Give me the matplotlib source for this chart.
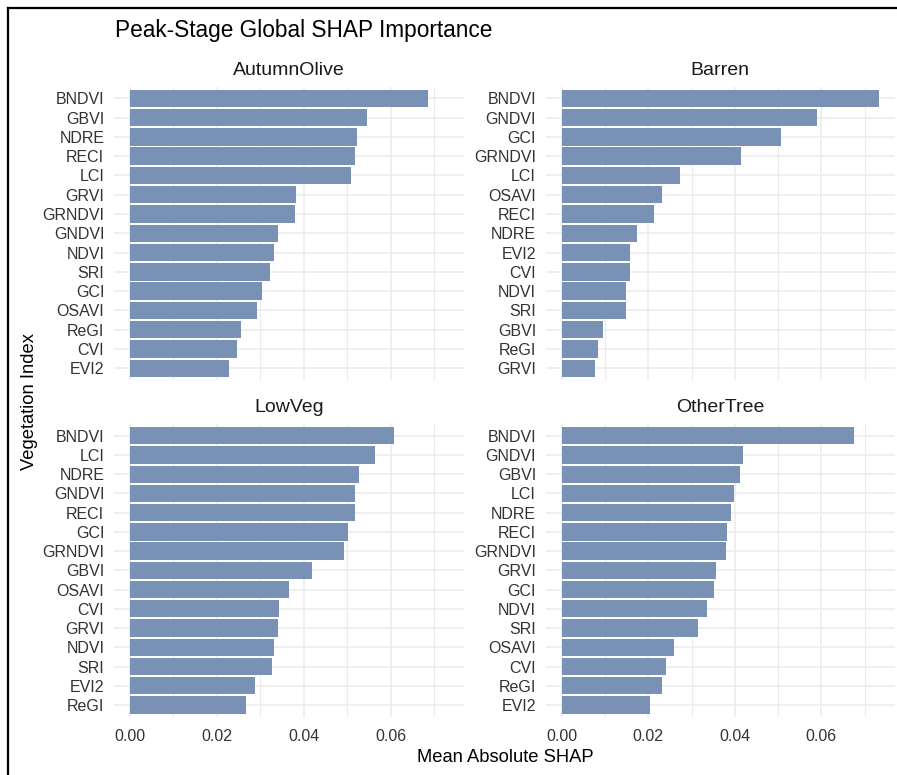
import matplotlib
matplotlib.use("Agg")
import matplotlib.pyplot as plt
from matplotlib.lines import Line2D
from matplotlib.ticker import MultipleLocator

plt.rcParams['font.family'] = ['Liberation Sans', 'DejaVu Sans']

title = "Peak-Stage Global SHAP Importance"
facets = ["AutumnOlive", "Barren", "LowVeg", "OtherTree"]

autumn_labels = ["BNDVI", "GBVI", "NDRE", "RECI", "LCI", "GRVI", "GRNDVI", "GNDVI",
                 "NDVI", "SRI", "GCI", "OSAVI", "ReGI", "CVI", "EVI2"]
autumn_values = [0.0687, 0.0546, 0.0522, 0.0519, 0.0508, 0.0382, 0.0379, 0.0340,
                 0.0332, 0.0323, 0.0305, 0.0293, 0.0255, 0.0247, 0.0229]

barren_labels = ["BNDVI", "GNDVI", "GCI", "GRNDVI", "LCI", "OSAVI", "RECI", "NDRE",
                 "EVI2", "CVI", "NDVI", "SRI", "GBVI", "ReGI", "GRVI"]
barren_values = [0.0733, 0.0589, 0.0507, 0.0415, 0.0273, 0.0232, 0.0214, 0.0173,
                 0.0158, 0.0158, 0.0149, 0.0149, 0.0096, 0.0084, 0.0076]

lowveg_labels = ["BNDVI", "LCI", "NDRE", "GNDVI", "RECI", "GCI", "GRNDVI", "GBVI",
                 "OSAVI", "CVI", "GRVI", "NDVI", "SRI", "EVI2", "ReGI"]
lowveg_values = [0.0608, 0.0563, 0.0528, 0.0519, 0.0519, 0.0502, 0.0493, 0.0420,
                 0.0367, 0.0344, 0.0340, 0.0332, 0.0326, 0.0288, 0.0267]

othertree_labels = ["BNDVI", "GNDVI", "GBVI", "LCI", "NDRE", "RECI", "GRNDVI", "GRVI",
                    "GCI", "NDVI", "SRI", "OSAVI", "CVI", "ReGI", "EVI2"]
othertree_values = [0.0675, 0.0418, 0.0412, 0.0398, 0.0391, 0.0382, 0.0380, 0.0356,
                    0.0353, 0.0335, 0.0315, 0.0259, 0.0241, 0.0232, 0.0203]

x_ticks = [0.00, 0.02, 0.04, 0.06]
x_tick_labels = ["0.00", "0.02", "0.04", "0.06"]

panel_data = [(autumn_labels, autumn_values), (barren_labels, barren_values),
              (lowveg_labels, lowveg_values), (othertree_labels, othertree_values)]

W, H = 897, 775
fig = plt.figure(figsize=(W / 100, H / 100), dpi=100)
fig.patch.set_facecolor("white")

bar_color = "#7A91B6"
grid_color = "#EBEBEB"
tick_color = "#333333"

cols = [(114, 464.3), (545.8, 894.8)]
rows = [(86.7, 379.9), (424.2, 716.5)]

xmax = max(max(v) for _, v in panel_data)
xlim = (-0.05 * xmax, 1.05 * xmax)

for i, (labels, values) in enumerate(panel_data):
    r, c = divmod(i, 2)
    x0, x1 = cols[c]
    y0, y1 = rows[r]
    ax = fig.add_axes([x0 / W, 1 - y1 / H, (x1 - x0) / W, (y1 - y0) / H])
    ax.set_facecolor("white")
    pos = list(range(len(labels)))
    ax.barh(pos, values, height=0.9, color=bar_color, zorder=2)
    ax.set_ylim(len(labels) - 0.4, -0.6)
    ax.set_xlim(*xlim)
    ax.set_yticks(pos)
    ax.set_yticklabels(labels)
    ax.set_xticks(x_ticks)
    ax.xaxis.set_minor_locator(MultipleLocator(0.01))
    if r == 1:
        ax.set_xticklabels(x_tick_labels)
    else:
        ax.set_xticklabels([])
    ax.tick_params(axis='both', which='both', length=0, labelsize=11.5,
                   labelcolor=tick_color)
    ax.tick_params(axis='y', pad=7)
    ax.tick_params(axis='x', pad=9)
    ax.grid(True, axis='y', which='major', color=grid_color, linewidth=1.1, zorder=0)
    ax.grid(True, axis='x', which='major', color=grid_color, linewidth=1.1, zorder=0)
    ax.grid(True, axis='x', which='minor', color=grid_color, linewidth=0.8, zorder=0)
    ax.set_axisbelow(True)
    for s in ax.spines.values():
        s.set_visible(False)
    fig.text((x0 + x1) / 2 / W, 1 - (y0 - 16.5) / H, facets[i], ha='center',
             va='center', fontsize=14, color="#1A1A1A")

fig.text(115 / W, 1 - 30 / H, title, ha='left', va='center', fontsize=16.3,
         color="black")
fig.text(505 / W, 1 - 758 / H, "Mean Absolute SHAP", ha='center', va='center',
         fontsize=13.2, color="black")
fig.text(29 / W, 1 - 401 / H, "Vegetation Index", ha='center', va='center',
         rotation=90, fontsize=13.2, color="black")

# frame lines (left and top) as in the reference screenshot
fig.add_artist(Line2D([8 / W, 8 / W], [0, 1 - 8 / H], transform=fig.transFigure,
                      color="black", linewidth=1.6))
fig.add_artist(Line2D([8 / W, 1], [1 - 8 / H, 1 - 8 / H], transform=fig.transFigure,
                      color="black", linewidth=1.6))

fig.savefig("out.png", dpi=100, facecolor="white")
